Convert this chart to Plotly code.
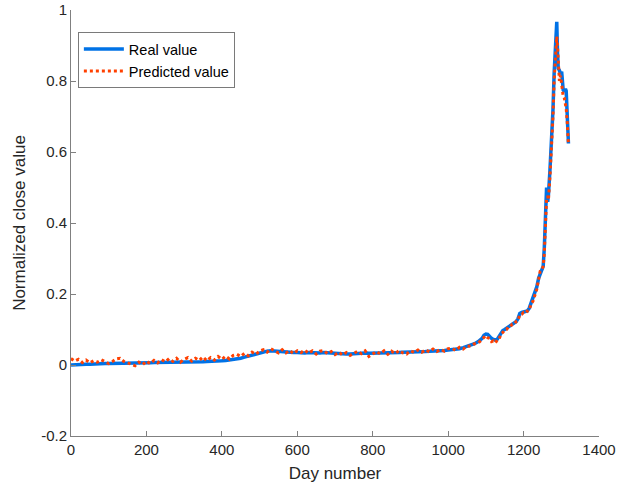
import plotly.graph_objects as go

days_early = list(range(0, 1001, 10))
days_late = [1010, 1020, 1030, 1040, 1050, 1060, 1070, 1080, 1090, 1095, 1100, 1105, 1110, 1115,
             1120, 1125, 1130, 1135, 1140, 1145, 1150, 1155, 1160, 1165, 1170, 1175, 1180, 1185,
             1190, 1195, 1200, 1205, 1210, 1215, 1220, 1225, 1230, 1235, 1240, 1244, 1248, 1252,
             1255, 1258, 1261, 1264, 1266, 1270, 1274, 1278, 1281, 1284, 1286, 1288, 1290, 1292,
             1295, 1298, 1301, 1303, 1305, 1308, 1311, 1313, 1316, 1319]
days = days_early + days_late

real_value = [
    0.000, 0.001, 0.001, 0.002, 0.002, 0.002, 0.003, 0.003, 0.003, 0.004, 0.004,
    0.004, 0.004, 0.005, 0.005, 0.005, 0.005, 0.006, 0.006, 0.006, 0.006,
    0.006, 0.007, 0.007, 0.007, 0.007, 0.008, 0.008, 0.008, 0.008, 0.008,
    0.009, 0.009, 0.009, 0.009, 0.009, 0.010, 0.010, 0.011, 0.011, 0.012,
    0.013, 0.014, 0.015, 0.017, 0.019, 0.022, 0.025, 0.028, 0.031, 0.034,
    0.037, 0.039, 0.040, 0.039, 0.037, 0.036, 0.036, 0.035, 0.035, 0.035,
    0.034, 0.034, 0.035, 0.034, 0.033, 0.034, 0.035, 0.034, 0.033, 0.033,
    0.033, 0.032, 0.031, 0.031, 0.032, 0.034, 0.035, 0.034, 0.033, 0.033,
    0.034, 0.034, 0.035, 0.034, 0.034, 0.035, 0.035, 0.036, 0.036, 0.036,
    0.037, 0.037, 0.038, 0.038, 0.039, 0.039, 0.040, 0.040, 0.041, 0.042,
    0.043, 0.044, 0.046, 0.049, 0.052, 0.055, 0.060, 0.066, 0.075, 0.084, 0.087, 0.086,
    0.080, 0.075, 0.072, 0.070, 0.072, 0.080, 0.090, 0.097, 0.100, 0.104, 0.108, 0.112,
    0.115, 0.118, 0.122, 0.130, 0.145, 0.148, 0.150, 0.150, 0.152, 0.160, 0.175, 0.185,
    0.200, 0.220, 0.245, 0.258, 0.265, 0.278, 0.330, 0.400, 0.500, 0.460, 0.480, 0.550,
    0.620, 0.720, 0.820, 0.880, 0.920, 0.967, 0.880, 0.835, 0.830, 0.820, 0.826, 0.800,
    0.775, 0.770, 0.778, 0.772, 0.700, 0.624,
]

predicted_value = [
    0.018, 0.011, 0.016, 0.007, 0.014, 0.006, 0.012, 0.008, 0.015, 0.010, 0.004,
    0.010, 0.017, 0.019, 0.010, 0.006, 0.002, -0.002, 0.008, 0.001, 0.011,
    0.004, 0.013, 0.006, 0.015, 0.009, 0.018, 0.010, 0.019, 0.008, 0.016,
    0.021, 0.011, 0.019, 0.013, 0.023, 0.012, 0.021, 0.014, 0.024, 0.016,
    0.025, 0.017, 0.027, 0.030, 0.024, 0.033, 0.026, 0.036, 0.030, 0.039,
    0.043, 0.036, 0.046, 0.040, 0.034, 0.043, 0.034, 0.041, 0.032, 0.040,
    0.035, 0.042, 0.033, 0.040, 0.031, 0.039, 0.041, 0.032, 0.038, 0.029,
    0.036, 0.028, 0.035, 0.027, 0.034, 0.039, 0.032, 0.040, 0.024, 0.032,
    0.038, 0.031, 0.040, 0.030, 0.039, 0.032, 0.041, 0.034, 0.031, 0.040,
    0.035, 0.042, 0.036, 0.043, 0.037, 0.045, 0.038, 0.044, 0.039, 0.046,
    0.047, 0.041, 0.050, 0.045, 0.054, 0.053, 0.060, 0.062, 0.072, 0.076, 0.083, 0.077,
    0.075, 0.066, 0.068, 0.062, 0.070, 0.072, 0.088, 0.092, 0.099, 0.100, 0.108, 0.108,
    0.115, 0.115, 0.122, 0.125, 0.142, 0.143, 0.148, 0.146, 0.152, 0.154, 0.172, 0.180,
    0.198, 0.213, 0.242, 0.264, 0.268, 0.278, 0.315, 0.385, 0.470, 0.475, 0.465, 0.530,
    0.600, 0.700, 0.800, 0.850, 0.880, 0.925, 0.900, 0.840, 0.800, 0.815, 0.785, 0.772,
    0.758, 0.752, 0.738, 0.722, 0.680, 0.620,
]

y_tick_vals = [-0.2, 0, 0.2, 0.4, 0.6, 0.8, 1]
y_tick_text = ["-0.2", "0", "0.2", "0.4", "0.6", "0.8", "1"]
x_tick_vals = [0, 200, 400, 600, 800, 1000, 1200, 1400]

fig = go.Figure()
fig.add_trace(go.Scatter(x=days, y=real_value, mode="lines", name="Real value",
                         line=dict(color="rgb(0,114,230)", width=3.5)))
fig.add_trace(go.Scatter(x=days, y=predicted_value, mode="lines", name="Predicted value",
                         line=dict(color="rgb(255,64,0)", width=3, dash="dot")))

axis_common = dict(showgrid=False, zeroline=False, showline=True, linecolor="#808080",
                   linewidth=1, ticks="inside", ticklen=5, tickcolor="#808080", mirror=False,
                   automargin=False,
                   tickfont=dict(family="Liberation Sans, Arial", size=15, color="#262626"))

fig.update_layout(
    width=638, height=488,
    margin=dict(l=71, r=39, t=10, b=52),
    paper_bgcolor="white", plot_bgcolor="white",
    font=dict(family="Liberation Sans, Arial", color="#262626"),
    xaxis=dict(range=[0, 1400], tickvals=x_tick_vals,
               title=dict(text="Day number", font=dict(size=17), standoff=10), **axis_common),
    yaxis=dict(range=[-0.2, 1], tickvals=y_tick_vals, ticktext=y_tick_text,
               title=dict(text="Normalized close value", font=dict(size=17), standoff=11),
               **axis_common),
    legend=dict(x=0.013, y=0.948, xanchor="left", yanchor="top", bgcolor="white",
                bordercolor="#7a7a7a", borderwidth=1, font=dict(size=14.5, color="#000"),
                tracegroupgap=0, itemwidth=40),
    showlegend=True,
)

fig.write_html("out.html", config={"displayModeBar": False},
               post_script="document.body.style.margin='0';document.body.style.padding='0';")
